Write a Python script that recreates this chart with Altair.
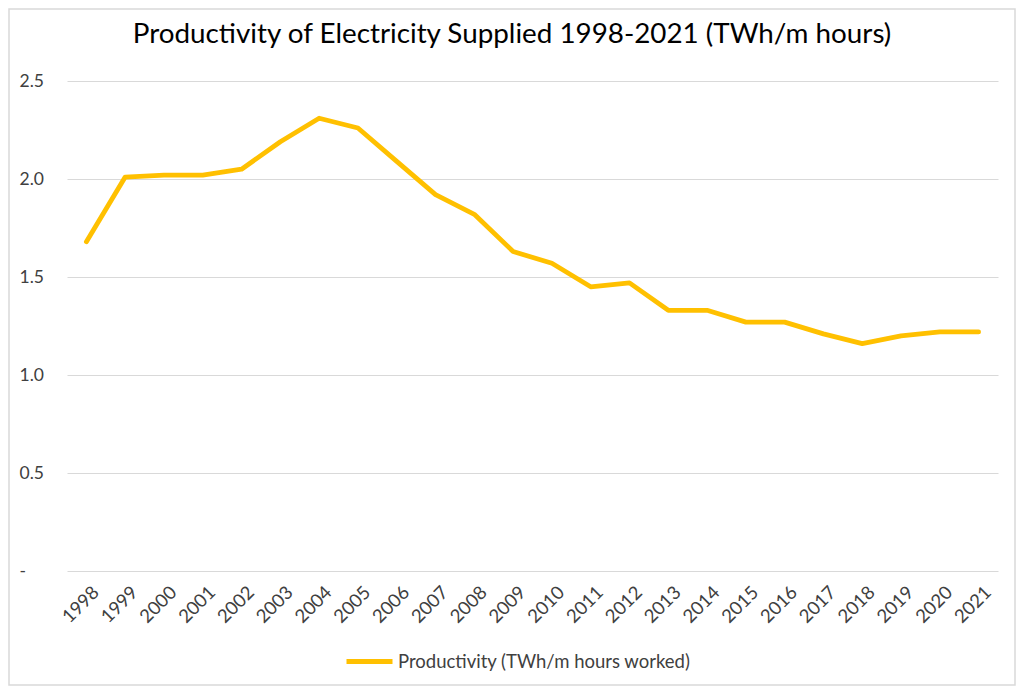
import altair as alt
import pandas as pd

years = [str(y) for y in range(1998, 2022)]
productivity = [1.68, 2.01, 2.02, 2.02, 2.05, 2.19, 2.31, 2.26, 2.09, 1.92, 1.82, 1.63,
                1.57, 1.45, 1.47, 1.33, 1.33, 1.27, 1.27, 1.21, 1.16, 1.20, 1.22, 1.22]
series_name = "Productivity (TWh/m hours worked)"
title_text = "Productivity of Electricity Supplied 1998-2021 (TWh/m hours)"
y_ticks = [0, 0.5, 1.0, 1.5, 2.0, 2.5]

df = pd.DataFrame({"Year": years, "Value": productivity, "Series": series_name})

FONT = "Lato"
PLOT_W, PLOT_H = 931, 490
PAD = {"left": 59, "top": 73, "right": 18, "bottom": 115}

line = alt.Chart(df).mark_line(strokeWidth=4.8, strokeCap="round", strokeJoin="round").encode(
    x=alt.X("Year:N", sort=years, title=None,
            scale=alt.Scale(type="point", padding=0.5),
            axis=alt.Axis(labelAngle=-45, labelAlign="right", labelBaseline="middle",
                          labelFontSize=18.5, labelFont=FONT, labelColor="#404040",
                          labelPadding=18, labelOffset=9, ticks=False, domain=False, grid=False)),
    y=alt.Y("Value:Q", title=None,
            scale=alt.Scale(domain=[0, 2.5], nice=False, zero=True),
            axis=alt.Axis(values=y_ticks, grid=True, gridColor="#d9d9d9", gridWidth=1,
                          ticks=False, domain=False, labelFontSize=17.5, labelFont=FONT,
                          labelColor="#404040", labelAlign="left", labelPadding=48,
                          labelExpr="datum.value == 0 ? '-' : format(datum.value, '.1f')")),
    color=alt.Color("Series:N", scale=alt.Scale(range=["#FFC000"]),
                    legend=alt.Legend(title=None, orient="none", legendX=277, legendY=555,
                                      symbolType="stroke", symbolSize=2116, symbolStrokeWidth=5,
                                      labelFontSize=18.5, labelFont=FONT, labelColor="#404040",
                                      labelOffset=3, labelLimit=0, padding=0)),
)

border = alt.Chart(pd.DataFrame({"b": [0]})).mark_rect(
    fill=None, stroke="#d9d9d9", strokeWidth=1.5
).encode(
    x=alt.value(-PAD["left"] + 1), x2=alt.value(PLOT_W + PAD["right"] - 1),
    y=alt.value(-PAD["top"] + 1), y2=alt.value(PLOT_H + PAD["bottom"] - 1),
)

title = alt.Chart(pd.DataFrame({"t": [title_text]})).mark_text(
    font=FONT, fontSize=27.8, color="#000000", align="center", baseline="alphabetic"
).encode(
    text="t:N", x=alt.value(445), y=alt.value(-38),
)

chart = alt.layer(border, title, line).properties(
    width=PLOT_W, height=PLOT_H,
    padding=PAD,
    background="white",
    autosize=alt.AutoSizeParams(type="none"),
).configure_view(stroke="transparent", strokeWidth=0)

chart.save("out.html", embed_options={"renderer": "svg", "actions": False})
